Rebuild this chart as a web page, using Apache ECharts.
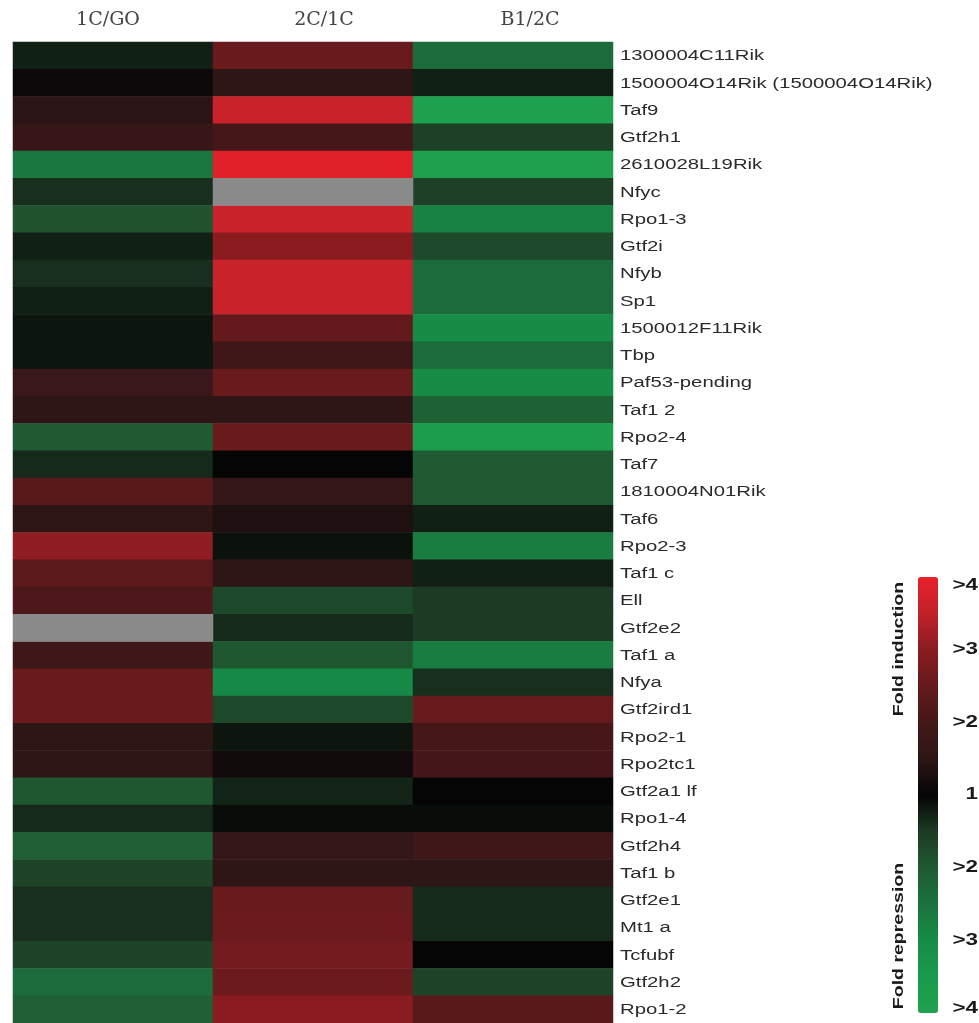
<!DOCTYPE html>
<html>
<head>
<meta charset="utf-8">
<script src="https://cdn.jsdelivr.net/npm/echarts@6/dist/echarts.min.js"></script>
<style>
  html, body { margin: 0; padding: 0; background: #ffffff; }
  #chart { width: 979px; height: 1023px; }
</style>
</head>
<body>
<div id="chart"></div>
<script>
// Gene rows, top to bottom
const genes = [
  '1300004C11Rik', '1500004O14Rik (1500004O14Rik)', 'Taf9', 'Gtf2h1', '2610028L19Rik',
  'Nfyc', 'Rpo1-3', 'Gtf2i', 'Nfyb', 'Sp1', '1500012F11Rik', 'Tbp', 'Paf53-pending',
  'Taf1 2', 'Rpo2-4', 'Taf7', '1810004N01Rik', 'Taf6', 'Rpo2-3', 'Taf1 c', 'Ell',
  'Gtf2e2', 'Taf1 a', 'Nfya', 'Gtf2ird1', 'Rpo2-1', 'Rpo2tc1', 'Gtf2a1 lf', 'Rpo1-4',
  'Gtf2h4', 'Taf1 b', 'Gtf2e1', 'Mt1 a', 'Tcfubf', 'Gtf2h2', 'Rpo1-2'
];

// Comparisons (columns)
const comparisons = ['1C/GO', '2C/1C', 'B1/2C'];

// Signed fold change: positive = fold induction, negative = fold repression, null = no data
const fold1C_G0 = [
  -1.25, 1.1, 1.45, 1.7, -2.6, -1.4, -1.9, -1.25, -1.4, -1.25, -1.15, -1.15,
  1.75, 1.5, -2.0, -1.35, 2.3, 1.5, 3.05, 2.35, 2.15, null, 1.85, 2.55,
  2.55, 1.5, 1.5, -1.95, -1.35, -2.1, -1.65, -1.4, -1.4, -1.65, -2.35, -2.1
];
const fold2C_1C = [
  2.55, 1.5, 3.6, 2.0, 3.9, null, 3.6, 3.0, 3.6, 3.6, 2.5, 1.9,
  2.55, 1.5, 2.55, 1.0, 1.65, 1.3, -1.12, 1.5, -1.75, -1.35, -1.95, -2.95,
  -1.75, -1.15, 1.15, -1.3, -1.08, 1.65, 1.5, 2.55, 2.6, 2.7, 2.6, 3.0
];
const foldB1_2C = [
  -2.35, -1.25, -3.9, -1.6, -3.9, -1.6, -2.8, -1.75, -2.35, -2.35, -3.0, -2.35,
  -3.0, -2.15, -3.6, -2.0, -2.0, -1.25, -2.7, -1.25, -1.5, -1.5, -2.7, -1.4,
  2.55, 2.0, 1.95, 1.0, -1.08, 1.85, 1.5, -1.35, -1.35, 1.0, -1.65, 2.3
];

// Colour scale tick labels, top to bottom
const scaleTicks = ['>4', '>3', '>2', '1', '>2', '>3', '>4'];
const scaleTickPos = [3, 2, 1, 0, -1, -2, -3];

// Map a signed fold change onto the linear colour-scale position (0 = no change)
function scalePos(f) {
  return f >= 0 ? f - 1 : f + 1;
}

const columnsData = [fold1C_G0, fold2C_1C, foldB1_2C];
const cells = [];
const missing = [];
columnsData.forEach(function (col, x) {
  col.forEach(function (f, y) {
    if (f === null) missing.push([x, y, 0]);
    else cells.push([x, y, +scalePos(f).toFixed(3)]);
  });
});

// Layout
const GRID = { left: 13, top: 42, right: 366, bottom: 0 };
const BAR = { left: 918, top: 577, width: 20, height: 436 };

const chart = echarts.init(document.getElementById('chart'), null, { renderer: 'canvas' });

const tickGraphics = scaleTicks.map(function (t, i) {
  const v = scaleTickPos[i];
  let y = BAR.top + (3 - v) / 6 * BAR.height;
  y = Math.max(BAR.top + 9, Math.min(BAR.top + BAR.height - 4, y));
  return {
    type: 'text',
    x: 978, y: y,
    scaleX: 1.4,
    style: {
      text: t, x: 0, y: 0,
      align: 'right', verticalAlign: 'middle',
      font: 'bold 16px "Liberation Sans", Arial, sans-serif',
      fill: '#1a1a1a'
    }
  };
});

const headerFont = {
  fontFamily: '"DejaVu Serif", "Liberation Serif", serif',
  fontSize: 19,
  color: '#444444'
};

chart.setOption({
  animation: false,
  backgroundColor: '#ffffff',
  grid: GRID,
  xAxis: {
    type: 'category',
    position: 'top',
    data: comparisons,
    axisLine: { show: false },
    axisTick: { show: false },
    splitLine: { show: false },
    axisLabel: {
      margin: 12,
      formatter: function (v, i) { return '{h' + i + '|' + v + '}'; },
      rich: {
        h0: Object.assign({ padding: [0, 10, 0, 0] }, headerFont),
        h1: Object.assign({ padding: [0, 0, 0, 22] }, headerFont),
        h2: Object.assign({ padding: [0, 0, 0, 34] }, headerFont)
      }
    }
  },
  yAxis: {
    type: 'category',
    inverse: true,
    data: genes,
    axisLine: { show: false },
    axisTick: { show: false },
    splitLine: { show: false },
    axisLabel: { show: false }
  },
  visualMap: {
    type: 'continuous',
    seriesIndex: 0,
    min: -3,
    max: 3,
    calculable: false,
    hoverLink: false,
    left: BAR.left,
    top: BAR.top,
    padding: 0,
    itemWidth: BAR.width,
    itemHeight: BAR.height,
    text: null,
    showLabel: false,
    inRange: {
      color: [
        '#1fa24f', '#1b9a4c', '#178c47', '#1a723d', '#1f5a32', '#1d3a24',
        '#050505',
        '#2e1617', '#451719', '#641a1c', '#8a1c20', '#c0232a', '#e8212a'
      ]
    }
  },
  graphic: tickGraphics.concat([
    {
      type: 'text',
      x: 899, y: 649,
      rotation: Math.PI / 2,
      scaleX: 1.3,
      style: {
        text: 'Fold induction', x: 0, y: 0,
        align: 'center', verticalAlign: 'middle',
        font: 'bold 15px "Liberation Sans", Arial, sans-serif',
        fill: '#1a1a1a'
      }
    },
    {
      type: 'text',
      x: 899, y: 936,
      rotation: Math.PI / 2,
      scaleX: 1.3,
      style: {
        text: 'Fold repression', x: 0, y: 0,
        align: 'center', verticalAlign: 'middle',
        font: 'bold 15px "Liberation Sans", Arial, sans-serif',
        fill: '#1a1a1a'
      }
    }
  ]),
  series: [
    {
      type: 'heatmap',
      data: cells,
      itemStyle: { borderWidth: 0 },
      emphasis: { disabled: true }
    },
    {
      type: 'heatmap',
      data: missing,
      itemStyle: { color: '#8a8a8a', borderWidth: 0 },
      emphasis: { disabled: true }
    },
    {
      // Gene names to the right of the last column
      type: 'custom',
      data: genes.map(function (g, i) { return [2, i]; }),
      clip: false,
      silent: true,
      renderItem: function (params, api) {
        const idx = api.value(1);
        const c = api.coord([api.value(0), idx]);
        const w = api.size([1, 1])[0];
        return {
          type: 'text',
          x: c[0] + w / 2 + 7,
          y: c[1] + 1,
          scaleX: 1.45,
          style: {
            text: genes[idx], x: 0, y: 0,
            align: 'left', verticalAlign: 'middle',
            font: '14px "Liberation Sans", Arial, sans-serif',
            fill: '#2a2a2a'
          }
        };
      }
    }
  ]
});
</script>
</body>
</html>
